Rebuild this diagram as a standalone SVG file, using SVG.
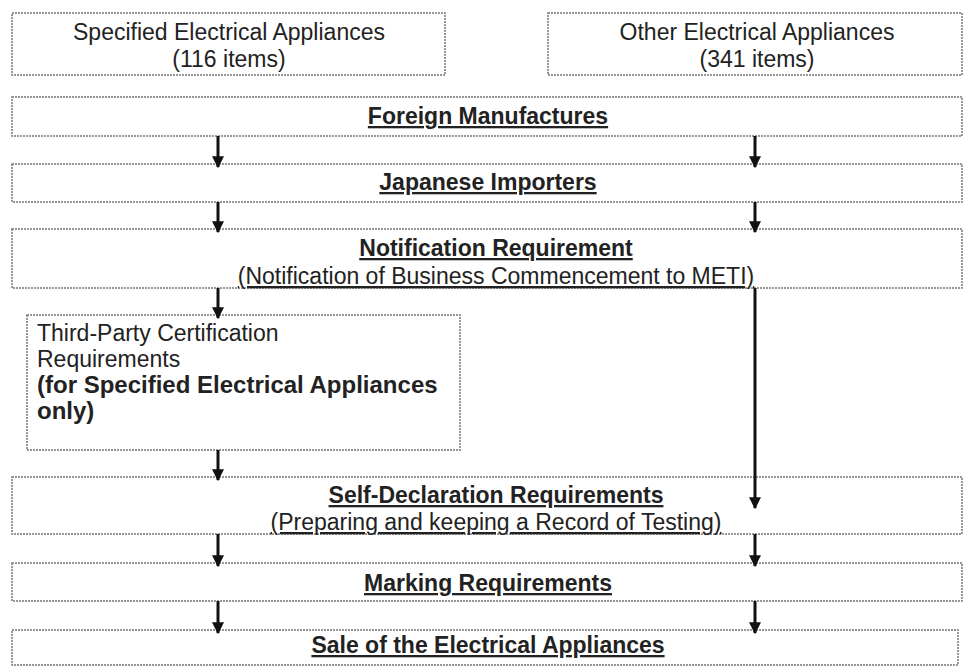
<svg xmlns="http://www.w3.org/2000/svg" width="965" height="667" viewBox="0 0 965 667">
<defs>
<marker id="ah" viewBox="0 0 10 10" refX="9" refY="5" markerWidth="4" markerHeight="4" orient="auto" markerUnits="strokeWidth">
<path d="M0,0 L10,5 L0,10 z" fill="#111"/>
</marker>
<style>
.box{fill:#fff;stroke:#777;stroke-width:1.5;stroke-dasharray:2 1}
.t{font-family:"Liberation Sans",Arial,sans-serif;font-size:23px;fill:#222}
.bb{font-weight:bold;font-size:24px}
.b{font-weight:bold;text-decoration:underline}
.c{text-anchor:middle}
.arr{stroke:#111;stroke-width:3;fill:none;marker-end:url(#ah)}
</style>
</defs>
<rect width="965" height="667" fill="#fff"/>
<g id="specified">
<rect class="box" x="12" y="13" width="433" height="62"/>
<text class="t c" x="229" y="40">Specified Electrical Appliances</text>
<text class="t c" x="229" y="67">(116 items)</text>
</g>
<g id="other">
<rect class="box" x="548" y="13" width="414" height="62"/>
<text class="t c" x="757" y="40">Other Electrical Appliances</text>
<text class="t c" x="757" y="67">(341 items)</text>
</g>
<g id="foreign">
<rect class="box" x="12" y="97" width="950" height="39"/>
<text class="t b c" x="488" y="124">Foreign Manufactures</text>
</g>
<g id="importers">
<rect class="box" x="12" y="164" width="950" height="38"/>
<text class="t b c" x="488" y="190">Japanese Importers</text>
</g>
<g id="notification">
<rect class="box" x="12" y="229" width="950" height="59"/>
<text class="t b c" x="496" y="256">Notification Requirement</text>
<text class="t c" x="496" y="284" text-decoration="underline">(Notification of Business Commencement to METI)</text>
</g>
<g id="thirdparty">
<rect class="box" x="27" y="315" width="433" height="135"/>
<text class="t" x="37" y="341">Third-Party Certification</text>
<text class="t" x="37" y="367">Requirements</text>
<text class="t bb" x="37" y="393">(for Specified Electrical Appliances</text>
<text class="t bb" x="37" y="419">only)</text>
</g>
<g id="selfdecl">
<rect class="box" x="12" y="477" width="950" height="57"/>
<text class="t b c" x="496" y="503">Self-Declaration Requirements</text>
<text class="t c" x="496" y="530" text-decoration="underline">(Preparing and keeping a Record of Testing)</text>
</g>
<g id="marking">
<rect class="box" x="12" y="563" width="950" height="38"/>
<text class="t b c" x="488" y="591">Marking Requirements</text>
</g>
<g id="sale">
<rect class="box" x="12" y="630" width="946" height="35"/>
<text class="t b c" x="488" y="653">Sale of the Electrical Appliances</text>
</g>
<g id="connectors">
<line class="arr" x1="218" y1="136" x2="218" y2="167"/>
<line class="arr" x1="218" y1="202" x2="218" y2="232"/>
<line class="arr" x1="218" y1="288" x2="218" y2="318"/>
<line class="arr" x1="218" y1="450" x2="218" y2="480"/>
<line class="arr" x1="218" y1="534" x2="218" y2="566"/>
<line class="arr" x1="218" y1="601" x2="218" y2="633"/>
<line class="arr" x1="755" y1="136" x2="755" y2="167"/>
<line class="arr" x1="755" y1="202" x2="755" y2="232"/>
<line class="arr" x1="755" y1="288" x2="755" y2="508"/>
<line class="arr" x1="755" y1="534" x2="755" y2="566"/>
<line class="arr" x1="755" y1="601" x2="755" y2="633"/>
</g>
</svg>
